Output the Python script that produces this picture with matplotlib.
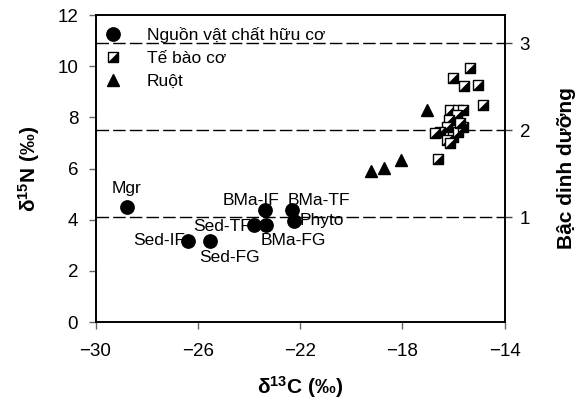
import numpy as np
import matplotlib
matplotlib.use('Agg')
import matplotlib.pyplot as plt
from matplotlib.path import Path

plt.rcParams['font.family'] = ['Liberation Sans', 'DejaVu Sans']
plt.rcParams['mathtext.fontset'] = 'custom'
plt.rcParams['mathtext.rm'] = 'Liberation Sans'
plt.rcParams['mathtext.it'] = 'Liberation Sans:italic'
plt.rcParams['mathtext.bf'] = 'Liberation Sans:bold'

# Organic matter sources (d13C, d15N)
source_names = ['Mgr', 'Sed-IF', 'Sed-FG', 'Sed-TF', 'BMa-FG', 'BMa-IF', 'BMa-TF', 'Phyto']
source_x = [-28.78, -26.37, -25.52, -23.80, -23.34, -23.37, -22.32, -22.22]
source_y = [4.50, 3.18, 3.18, 3.79, 3.79, 4.37, 4.37, 3.95]

# Muscle tissue
tissue_x = [-15.35, -16.00, -15.57, -15.02, -14.85, -16.13, -15.83, -15.61, -15.87, -16.16,
            -16.26, -16.52, -16.72, -16.00, -16.26, -15.81, -15.61, -15.74, -16.59, -16.13]
tissue_y = [9.91, 9.52, 9.22, 9.26, 8.48, 8.30, 8.30, 8.28, 8.09, 7.89,
            7.63, 7.43, 7.37, 7.24, 7.11, 7.43, 7.63, 7.76, 6.39, 6.98]

# Gut contents
gut_x = [-19.22, -18.71, -18.05, -17.04]
gut_y = [5.90, 6.02, 6.33, 8.28]

# trophic level scale: TL 1 at baseline d15N, +3.4 permil per level
tl_base = 4.1
tl_step = 3.4
trophic_levels = [1, 2, 3]

# label offsets in points (dx, dy, ha)
label_pos = {
    'Mgr': (0, 13, 'center'),
    'Sed-IF': (-2, 0, 'right'),
    'Sed-FG': (14, -12, 'center'),
    'Sed-TF': (-2, -1, 'right'),
    'BMa-FG': (20, -11, 'center'),
    'BMa-IF': (-10, 7, 'center'),
    'BMa-TF': (-3, 7, 'left'),
    'Phyto': (4, 0, 'left'),
}

fig = plt.figure(figsize=(5.76, 4.09), dpi=100)
ax = fig.add_axes([0.1658, 0.2127, 0.7101, 0.7506])

circ, = ax.plot(source_x, source_y, 'o', color='black', markersize=9.6, zorder=5)
for name, x, y in zip(source_names, source_x, source_y):
    dx, dy, ha = label_pos[name]
    ax.annotate(name, (x, y), xytext=(dx, dy), textcoords='offset points',
                ha=ha, va='center', fontsize=12.5, zorder=3)

# half-filled square: white square + black lower-right triangle
sq = Path([(-1, -1), (1, -1), (1, 1), (-1, 1), (-1, -1)], closed=True)
half = Path([(-1, -1), (1, -1), (1, 1), (-1, -1)], closed=True)
for x, y in zip(tissue_x, tissue_y):
    s1, = ax.plot(x, y, marker=sq, markersize=7.8, markerfacecolor='white',
                  markeredgecolor='black', markeredgewidth=1.0, linestyle='none', zorder=4)
    s2, = ax.plot(x, y, marker=half, markersize=7.8, markerfacecolor='black',
                  markeredgecolor='black', markeredgewidth=0.5, linestyle='none', zorder=4)

tri, = ax.plot(gut_x, gut_y, '^', color='black', markersize=9.2, zorder=4)

ax.set_xlim(-30, -14)
ax.set_ylim(0, 12)
ax.set_xticks([-30, -26, -22, -18, -14])
ax.set_yticks([0, 2, 4, 6, 8, 10, 12])
for sp in ax.spines.values():
    sp.set_linewidth(1.2)
ax.tick_params(direction='out', length=5, width=1, color='#666666', labelsize=13.5)
ax.tick_params(axis='x', pad=10)
ax.tick_params(axis='y', pad=7.5)

ax.set_xlabel(r'$\mathregular{\delta^{13}}$C (‰)', fontsize=15, fontweight='bold', labelpad=10)
ax.set_ylabel(r'$\mathregular{\delta^{15}}$N (‰)', fontsize=15, fontweight='bold', labelpad=11)

ax2 = ax.twinx()
ax2.set_ylim(1 + (0 - tl_base) / tl_step, 1 + (12 - tl_base) / tl_step)
ax2.set_yticks(trophic_levels)
ax2.tick_params(direction='out', length=5, width=1, color='#444444', labelsize=13.5, pad=6)
for sp in ax2.spines.values():
    sp.set_linewidth(1.2)
for tl in trophic_levels:
    ax2.axhline(tl, color='black', linewidth=1, linestyle=(0, (9, 3)), zorder=1)
ax2.set_ylabel('Bậc dinh dưỡng', fontsize=15, fontweight='bold', labelpad=19)

ax.set_zorder(ax2.get_zorder() + 1)
ax.patch.set_visible(False)

ax.legend([circ, (s1, s2), tri], ['Nguồn vật chất hữu cơ', 'Tế bào cơ', 'Ruột'],
          loc='upper left', bbox_to_anchor=(0.0215, 0.962), frameon=False,
          fontsize=12.5, handlelength=1.0, handletextpad=1.45, labelspacing=0.45,
          borderpad=0, borderaxespad=0)

fig.savefig('out.png', dpi=100)
